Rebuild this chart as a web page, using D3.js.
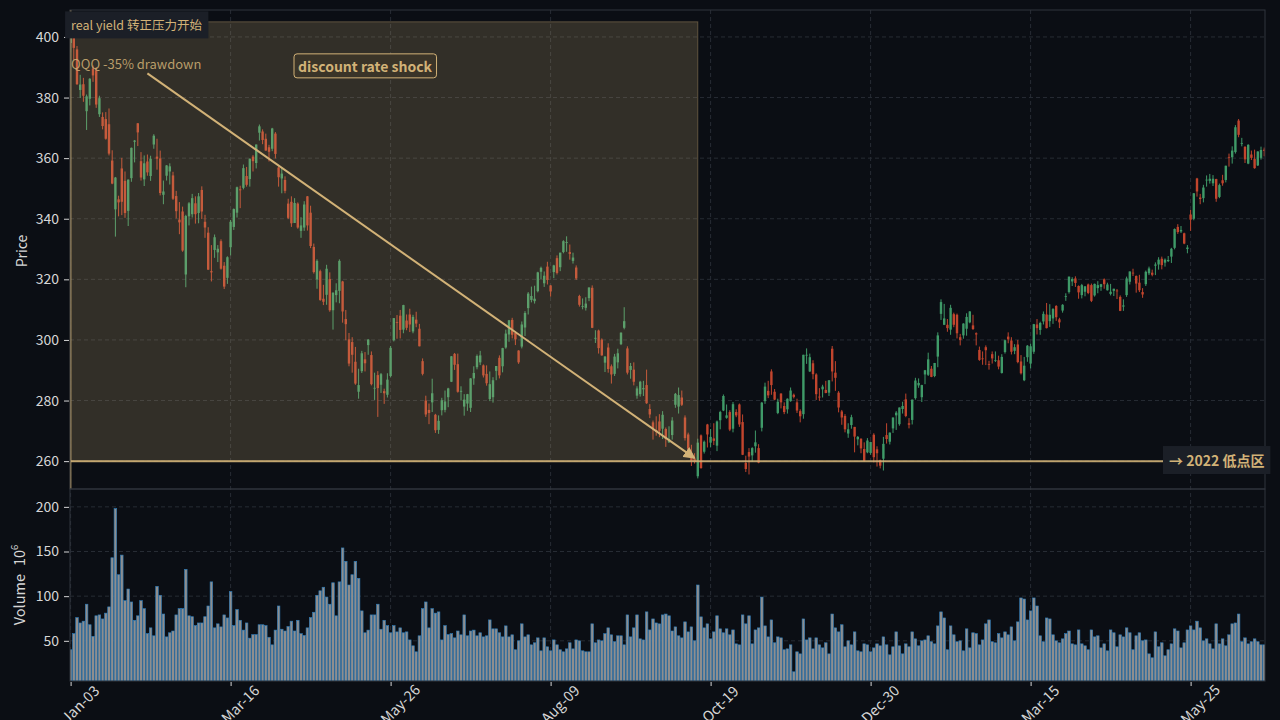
<!DOCTYPE html>
<html>
<head>
<meta charset="utf-8">
<script src="https://cdn.jsdelivr.net/npm/d3@7"></script>
<style>
  body { margin: 0; background: #0b0e14; }
  svg { display: block; font-family: "Noto Sans CJK SC", "Noto Sans", sans-serif; }
</style>
</head>
<body>
<div id="chart"></div>
<script>
// x ticks: every 50 trading days
const tickIndex = [0, 50, 100, 150, 200, 250, 300, 350];
const tickLabels = ["Jan-03", "Mar-16", "May-26", "Aug-09", "Oct-19", "Dec-30", "Mar-15", "May-25"];
const priceTicks = [260, 280, 300, 320, 340, 360, 380, 400];
const volumeTicks = [50, 100, 150, 200];

const opens = [
  398.0, 402.4, 395.9, 382.5, 384.4, 375.5, 379.6, 389.6, 389.0, 374.5,
  373.6, 372.9, 371.2, 359.2, 343.1, 346.4, 356.6, 352.5, 342.6, 353.4,
  365.4, 371.5, 359.0, 353.0, 358.9, 354.1, 364.5, 360.5, 359.9, 347.9,
  354.2, 355.6, 354.3, 347.5, 339.7, 342.4, 321.6, 340.8, 341.5, 345.1,
  341.9, 349.5, 339.0, 335.4, 322.7, 329.7, 328.9, 332.6, 324.5, 320.5,
  330.6, 337.3, 342.0, 349.7, 350.2, 354.1, 353.1, 360.5, 358.4, 368.4,
  368.8, 366.4, 363.6, 363.1, 368.1, 356.9, 353.3, 352.8, 345.0, 345.6,
  338.6, 345.0, 336.0, 337.1, 347.4, 342.0, 330.7, 320.0, 322.7, 313.6,
  314.9, 320.1, 309.8, 314.8, 316.2, 319.3, 306.9, 300.2, 299.3, 292.8,
  282.9, 289.7, 293.6, 298.3, 295.0, 284.1, 288.4, 285.2, 283.1, 281.9,
  288.1, 299.9, 305.9, 308.0, 303.4, 306.4, 308.4, 302.8, 306.7, 303.7,
  293.0, 280.0, 276.9, 279.4, 275.3, 270.3, 276.8, 276.9, 281.1, 286.2,
  295.4, 292.0, 282.9, 278.0, 279.0, 277.6, 287.3, 291.0, 292.6, 291.6,
  288.8, 280.5, 281.1, 289.8, 294.1, 291.3, 297.5, 301.8, 306.6, 302.3,
  296.5, 297.8, 304.1, 310.5, 313.2, 312.8, 316.1, 322.5, 318.7, 324.2,
  318.0, 322.4, 327.0, 324.0, 329.0, 332.0, 329.0, 326.1, 323.9, 314.5,
  311.1, 310.6, 313.8, 317.2, 300.4, 303.1, 300.1, 292.5, 297.5, 291.3,
  288.8, 292.6, 298.6, 304.0, 297.2, 290.1, 290.2, 281.6, 282.1, 283.7,
  285.1, 277.2, 272.8, 270.2, 273.1, 270.7, 270.6, 266.2, 268.6, 278.6,
  278.0, 281.0, 274.4, 268.8, 262.7, 260.7, 255.0, 268.5, 263.1, 272.1,
  266.1, 267.5, 265.1, 273.5, 276.7, 274.3, 276.2, 270.7, 276.2, 278.7,
  272.9, 259.4, 263.0, 261.9, 264.9, 264.3, 271.0, 279.8, 283.2, 289.6,
  282.9, 275.9, 282.3, 278.2, 277.1, 279.8, 281.9, 279.4, 276.5, 275.5,
  294.9, 289.6, 292.3, 288.6, 281.3, 283.7, 283.5, 282.6, 297.1, 289.2,
  282.6, 276.4, 274.9, 269.1, 271.9, 271.3, 267.2, 267.4, 264.0, 262.9,
  262.7, 268.7, 263.9, 260.3, 260.8, 268.6, 266.4, 270.8, 275.1, 272.2,
  277.2, 280.4, 272.5, 273.6, 280.8, 285.0, 281.1, 288.6, 288.5, 290.5,
  288.1, 294.5, 308.6, 305.0, 305.0, 303.4, 308.5, 308.3, 300.9, 301.5,
  303.7, 305.8, 304.8, 302.2, 296.7, 293.9, 297.6, 292.0, 295.3, 293.3,
  293.3, 289.1, 296.0, 301.1, 299.8, 296.4, 298.5, 292.9, 286.7, 294.3,
  292.2, 296.1, 305.1, 303.3, 306.1, 308.4, 306.2, 307.1, 311.2, 306.8,
  309.7, 314.3, 315.8, 319.3, 320.3, 317.8, 314.8, 315.9, 318.3, 318.1,
  314.7, 317.1, 317.5, 320.0, 316.4, 315.2, 316.2, 316.3, 314.2, 311.0,
  314.8, 319.2, 322.2, 321.1, 318.9, 315.8, 318.4, 322.0, 322.2, 324.5,
  324.9, 326.8, 325.5, 326.0, 327.5, 330.4, 337.3, 335.8, 335.2, 330.0,
  341.4, 340.0, 353.3, 347.0, 346.8, 352.7, 352.5, 351.7, 353.1, 347.2,
  352.7, 352.8, 360.4, 360.3, 362.0, 372.4, 364.9, 363.7, 358.2, 361.2,
  359.7, 357.6, 360.1, 362.8
];
const highs = [
  401.9, 403.0, 397.0, 387.5, 386.5, 381.0, 386.4, 390.6, 390.0, 380.6,
  375.1, 375.2, 376.4, 362.6, 353.8, 347.6, 360.1, 355.6, 353.0, 363.5,
  366.0, 371.6, 362.0, 360.9, 361.2, 360.8, 367.9, 366.4, 362.5, 352.6,
  357.7, 358.3, 355.5, 349.2, 345.5, 344.0, 341.3, 345.5, 348.2, 347.4,
  348.5, 350.7, 341.3, 337.2, 331.3, 334.8, 331.3, 333.2, 325.7, 327.6,
  339.6, 343.4, 350.6, 350.9, 357.9, 357.1, 359.9, 361.0, 364.5, 371.1,
  369.5, 368.1, 364.4, 370.0, 368.6, 357.3, 357.0, 354.0, 346.6, 347.4,
  346.8, 345.4, 340.5, 345.8, 347.5, 344.3, 331.8, 326.6, 323.2, 318.2,
  324.8, 322.3, 315.7, 318.7, 326.6, 319.5, 309.9, 302.3, 300.9, 297.7,
  290.5, 296.4, 296.0, 300.3, 296.2, 289.2, 289.7, 289.1, 283.9, 289.0,
  298.0, 307.2, 308.2, 309.9, 311.6, 308.4, 310.3, 308.3, 309.3, 305.3,
  293.9, 281.6, 279.0, 287.2, 275.6, 275.1, 280.9, 283.3, 284.2, 294.7,
  295.7, 295.5, 284.7, 282.1, 282.2, 287.4, 291.3, 295.2, 296.4, 291.9,
  291.6, 289.6, 287.7, 291.4, 294.9, 297.4, 303.4, 306.6, 307.3, 302.8,
  296.6, 306.1, 309.5, 315.8, 317.6, 317.9, 322.5, 324.2, 322.6, 325.8,
  318.1, 324.8, 327.9, 328.8, 332.9, 334.2, 331.5, 328.8, 324.6, 314.9,
  313.7, 314.1, 317.4, 318.0, 303.2, 303.4, 300.5, 294.7, 298.9, 291.9,
  295.4, 297.1, 302.5, 310.8, 297.9, 292.4, 292.6, 284.7, 286.5, 286.5,
  290.2, 278.8, 273.4, 274.8, 275.5, 276.5, 271.1, 271.5, 274.5, 282.5,
  284.3, 283.3, 275.1, 269.4, 265.4, 262.6, 267.4, 268.8, 266.8, 272.3,
  270.6, 272.5, 273.4, 276.6, 282.0, 278.7, 276.8, 279.5, 277.1, 279.0,
  275.4, 261.8, 264.3, 264.6, 270.1, 265.6, 279.5, 285.9, 286.5, 290.3,
  283.8, 280.6, 282.4, 279.4, 280.7, 284.3, 282.3, 280.6, 277.1, 295.1,
  297.2, 295.5, 293.3, 289.0, 284.1, 285.2, 286.5, 286.7, 298.0, 293.0,
  283.1, 276.9, 275.5, 272.5, 275.3, 271.3, 268.3, 267.5, 266.2, 267.6,
  266.4, 269.2, 264.9, 260.5, 268.0, 272.5, 269.5, 274.4, 276.5, 277.7,
  279.6, 282.3, 274.2, 280.3, 287.5, 287.3, 285.2, 290.1, 295.8, 291.4,
  292.4, 302.5, 313.4, 311.9, 306.9, 311.6, 309.0, 308.7, 302.0, 305.5,
  308.8, 309.5, 308.3, 302.5, 297.8, 296.2, 298.2, 293.1, 296.2, 296.2,
  294.8, 295.3, 300.1, 302.5, 300.9, 298.6, 300.0, 295.0, 294.4, 298.3,
  298.8, 305.3, 306.9, 306.0, 309.4, 312.2, 311.8, 310.5, 311.5, 307.3,
  311.8, 315.4, 320.9, 320.7, 321.0, 318.0, 318.5, 317.7, 318.6, 318.6,
  318.6, 319.4, 318.5, 320.3, 318.9, 318.5, 316.9, 316.8, 314.7, 313.4,
  320.9, 322.6, 323.5, 321.3, 321.5, 317.1, 322.9, 324.2, 323.2, 325.6,
  327.3, 327.5, 326.9, 327.7, 330.4, 336.8, 338.2, 337.6, 335.4, 331.3,
  342.9, 348.5, 353.5, 348.2, 351.2, 354.3, 354.8, 354.4, 353.2, 351.6,
  354.5, 357.5, 361.5, 363.9, 370.9, 372.9, 366.7, 364.0, 364.6, 362.5,
  362.8, 362.3, 363.8, 363.5
];
const lows = [
  394.9, 392.4, 384.2, 379.9, 378.6, 369.3, 377.4, 385.2, 376.6, 373.6,
  369.5, 366.1, 360.9, 351.4, 334.1, 340.8, 341.2, 340.3, 337.6, 352.2,
  358.6, 364.0, 352.6, 350.8, 354.2, 352.5, 363.1, 356.2, 347.7, 344.8,
  352.6, 351.3, 346.2, 340.1, 334.9, 329.1, 317.4, 337.8, 340.4, 338.4,
  338.5, 339.9, 333.7, 323.1, 319.3, 327.1, 325.7, 323.2, 316.8, 318.5,
  327.9, 336.3, 340.4, 343.5, 349.7, 350.6, 350.6, 355.6, 356.6, 365.8,
  364.6, 362.5, 358.9, 362.3, 359.9, 350.6, 348.4, 348.4, 339.9, 337.3,
  338.6, 336.7, 333.7, 336.0, 336.1, 330.3, 321.9, 316.9, 312.9, 311.5,
  311.6, 309.3, 303.4, 312.4, 312.1, 305.7, 299.9, 291.3, 289.2, 285.2,
  280.6, 289.1, 289.6, 295.1, 285.0, 280.2, 274.6, 282.5, 278.9, 281.0,
  287.7, 299.5, 300.4, 300.5, 302.2, 303.2, 302.6, 302.2, 304.2, 297.9,
  288.3, 274.6, 272.2, 276.2, 269.3, 269.0, 275.1, 276.1, 277.8, 286.1,
  290.1, 282.6, 280.0, 275.0, 276.6, 276.2, 285.2, 290.3, 291.7, 287.6,
  284.9, 279.8, 279.3, 286.7, 287.3, 289.3, 297.1, 299.4, 300.5, 298.3,
  292.1, 297.2, 301.3, 308.4, 312.4, 312.0, 315.7, 320.1, 317.5, 318.3,
  314.3, 320.4, 321.6, 322.7, 328.6, 329.1, 326.5, 325.2, 319.8, 311.0,
  310.1, 309.7, 312.8, 303.9, 299.0, 295.5, 294.8, 289.4, 289.2, 285.6,
  288.1, 290.6, 298.3, 303.5, 288.6, 287.2, 285.0, 280.6, 281.3, 281.5,
  278.9, 274.2, 267.1, 268.4, 267.9, 267.3, 264.7, 266.0, 267.1, 277.6,
  275.7, 278.2, 266.8, 262.1, 258.4, 259.2, 254.3, 257.5, 262.5, 264.5,
  264.6, 265.3, 263.3, 270.5, 276.5, 274.0, 269.9, 269.5, 274.5, 271.3,
  262.0, 256.4, 255.6, 259.8, 262.8, 259.3, 269.8, 278.9, 280.8, 281.9,
  280.1, 275.5, 277.4, 275.5, 275.7, 279.6, 280.7, 275.9, 272.8, 274.0,
  292.1, 289.4, 287.0, 280.2, 279.9, 281.0, 282.4, 281.5, 286.3, 283.2,
  276.1, 272.0, 269.5, 267.7, 270.7, 262.9, 265.2, 262.6, 259.9, 262.6,
  262.1, 259.6, 258.2, 257.6, 256.9, 265.8, 265.5, 269.3, 270.3, 271.7,
  275.7, 274.5, 270.8, 272.1, 280.3, 284.2, 279.5, 285.4, 288.1, 287.7,
  287.7, 291.0, 306.6, 304.9, 302.7, 301.7, 304.2, 300.5, 298.2, 300.4,
  301.4, 305.5, 303.3, 298.2, 293.1, 291.8, 291.7, 290.2, 292.2, 292.7,
  290.3, 288.9, 295.5, 298.9, 295.2, 295.3, 292.3, 288.6, 286.4, 292.8,
  290.6, 295.4, 301.8, 301.7, 305.1, 303.8, 304.3, 305.3, 306.3, 303.9,
  309.0, 312.9, 315.3, 317.8, 317.5, 313.6, 313.7, 314.4, 315.1, 312.5,
  314.3, 315.4, 316.2, 316.9, 316.3, 314.7, 314.5, 313.5, 309.5, 309.6,
  314.2, 318.3, 321.1, 315.6, 315.8, 313.9, 317.8, 321.4, 321.0, 321.4,
  323.2, 323.3, 324.2, 325.7, 325.4, 329.9, 335.0, 335.3, 331.6, 328.6,
  336.0, 339.5, 347.3, 344.8, 345.4, 350.6, 351.6, 350.8, 345.6, 346.8,
  350.9, 352.0, 357.2, 358.2, 361.5, 366.9, 363.9, 358.4, 358.0, 359.4,
  356.5, 357.4, 359.5, 360.6
];
const closes = [
  401.7, 396.4, 384.4, 384.3, 380.6, 380.4, 386.2, 387.3, 377.7, 379.8,
  370.6, 366.4, 361.5, 351.6, 353.6, 345.4, 345.6, 341.9, 352.9, 363.4,
  365.8, 368.5, 353.6, 358.3, 355.3, 359.8, 367.4, 359.8, 348.5, 349.0,
  357.6, 357.3, 346.6, 342.5, 338.8, 329.5, 340.9, 345.1, 346.8, 341.5,
  347.4, 342.4, 337.1, 323.2, 322.3, 333.9, 330.1, 323.5, 317.6, 327.3,
  339.0, 343.2, 350.4, 349.4, 356.7, 351.2, 359.8, 359.0, 364.5, 370.5,
  366.0, 362.5, 362.1, 369.8, 361.4, 353.7, 354.9, 349.2, 340.3, 338.5,
  345.2, 337.1, 337.8, 344.7, 337.8, 331.0, 322.4, 326.1, 313.2, 312.6,
  323.5, 309.8, 315.6, 316.4, 326.1, 309.4, 305.2, 292.2, 295.1, 285.6,
  285.1, 295.6, 292.3, 300.1, 285.4, 284.2, 284.1, 288.7, 282.4, 286.9,
  297.4, 307.2, 305.8, 303.3, 311.5, 304.0, 305.1, 307.6, 305.4, 297.9,
  288.8, 275.4, 275.9, 282.4, 270.2, 273.3, 280.1, 279.7, 284.0, 294.6,
  291.8, 282.9, 283.2, 280.3, 282.1, 287.3, 289.1, 294.7, 294.9, 288.3,
  285.7, 285.4, 286.7, 291.4, 288.3, 297.3, 302.1, 306.5, 301.7, 300.2,
  292.6, 305.1, 308.9, 315.3, 314.5, 313.6, 322.3, 323.8, 321.2, 319.8,
  316.0, 324.6, 322.1, 328.8, 332.6, 332.3, 328.4, 327.2, 320.3, 311.6,
  311.2, 312.0, 317.3, 304.0, 300.7, 297.3, 294.9, 294.5, 290.4, 288.6,
  294.5, 295.6, 302.4, 306.2, 289.2, 291.4, 286.2, 284.0, 286.2, 284.1,
  279.1, 275.4, 270.8, 269.6, 270.0, 275.3, 267.3, 267.3, 273.4, 282.2,
  281.8, 278.6, 267.6, 264.1, 260.0, 259.8, 266.1, 257.7, 266.4, 268.8,
  268.0, 266.7, 273.1, 276.2, 281.5, 275.1, 270.4, 278.8, 275.1, 272.1,
  262.1, 257.4, 261.5, 264.3, 266.2, 259.5, 279.3, 284.6, 281.7, 285.1,
  280.3, 279.6, 279.4, 276.2, 280.6, 283.3, 281.2, 276.7, 274.8, 295.1,
  295.1, 294.3, 288.7, 282.1, 281.0, 284.6, 282.5, 286.7, 289.6, 287.5,
  277.7, 274.4, 270.5, 270.5, 274.5, 268.1, 268.0, 264.2, 260.1, 266.8,
  266.3, 261.3, 262.6, 258.5, 265.7, 267.3, 269.4, 274.4, 276.0, 277.7,
  278.2, 274.9, 272.0, 280.3, 286.6, 285.8, 285.1, 290.0, 293.6, 287.8,
  292.4, 301.5, 312.5, 307.1, 303.9, 310.6, 305.0, 302.2, 300.0, 305.4,
  307.6, 309.4, 303.6, 301.8, 293.4, 293.7, 296.6, 291.8, 293.9, 293.3,
  291.2, 294.4, 299.9, 300.2, 296.1, 297.6, 292.7, 289.0, 291.5, 298.1,
  297.9, 305.2, 303.9, 305.6, 308.6, 303.9, 308.3, 310.2, 307.5, 305.8,
  311.6, 314.5, 320.9, 320.1, 318.8, 315.7, 318.1, 317.7, 315.5, 312.9,
  318.5, 318.1, 318.4, 318.4, 318.3, 315.9, 316.9, 316.1, 309.6, 311.4,
  320.3, 322.6, 322.1, 318.6, 316.4, 315.0, 322.5, 323.6, 321.5, 324.9,
  326.5, 324.7, 326.5, 326.4, 330.1, 336.6, 335.6, 336.3, 331.8, 330.5,
  339.7, 348.4, 349.0, 346.5, 350.3, 352.9, 353.2, 353.2, 346.6, 351.1,
  351.7, 357.5, 360.2, 362.5, 370.2, 367.7, 365.0, 359.6, 364.4, 360.1,
  356.7, 362.2, 362.7, 362.4
];
// volume in millions
const volumes = [
  40, 58, 76, 70, 72, 91, 68, 55, 78, 79,
  74.5, 81, 88, 143, 198, 124, 146, 95, 108, 93.5,
  73, 78, 95, 86, 58, 64.5, 55.6, 111, 101, 80,
  54.4, 59, 61, 79, 86, 86, 130, 78, 77, 67,
  70, 70, 77, 89, 116, 64.5, 69, 65.6, 79, 75.6,
  105, 67, 85, 73, 62, 70, 53, 57, 57, 68,
  68, 67, 54, 45.5, 62, 89, 63, 61, 66, 72,
  61, 73, 58, 56, 64.5, 76, 82, 101, 106, 110,
  99, 91, 115, 78, 116, 154, 139, 112.5, 124, 139,
  120, 83.5, 59, 62, 79, 79, 91, 63, 73, 67,
  59, 67, 60, 64.5, 59, 60, 51, 44.4, 37.7, 55.6,
  86, 93.5, 64.5, 86, 81, 82.4, 51, 67, 57, 58,
  53.3, 61, 56.7, 79, 55.6, 61, 62, 55.6, 59, 54.4,
  55.6, 73.4, 63.4, 63.4, 59, 54.4, 66.7, 54.4, 56.7, 40,
  50, 69, 54.4, 56.7, 45.5, 47.8, 53.3, 38.8, 53.3, 43.3,
  38.8, 51, 45.5, 40, 37.7, 41, 47.8, 41, 51, 50,
  38.8, 37.7, 37.7, 69, 47.8, 51, 50, 58, 64.5, 56.7,
  49, 55.6, 55.6, 45.5, 79, 54.4, 64.5, 79, 52.2, 51,
  82.4, 62.2, 74.5, 70, 69, 79, 80, 78, 61, 65.6,
  55.6, 53.3, 71.2, 60, 65.6, 50, 112.5, 76.8, 64.5, 69,
  52.2, 60, 78, 63.4, 59, 63.4, 56.7, 62.2, 46.6, 45.5,
  79, 69, 78, 46.6, 62.2, 64.5, 99, 66.7, 54.4, 73.4,
  47.8, 54.4, 53.3, 40, 41, 45.5, 15.3, 37.7, 35.4, 74.5,
  51, 53.3, 41, 53.3, 45.5, 42.1, 47.8, 35.4, 80, 64.5,
  60, 68, 43.3, 50, 45.5, 60, 38.8, 37.7, 46.6, 45.5,
  37.7, 42.1, 46.6, 44.4, 54.4, 45.5, 34.3, 43.3, 60, 44.4,
  35.4, 46.6, 43.3, 60, 52.2, 44.4, 50, 51, 55.6, 49,
  46.6, 66.7, 82.4, 75.6, 40, 66.7, 56.7, 49, 50, 38.8,
  63.4, 42.1, 59, 58, 45.5, 51, 69, 73.4, 49, 47.8,
  58, 53.3, 60, 56.7, 65.6, 50, 71.2, 98, 96.8, 73.4,
  83.5, 98, 89, 55.6, 49, 75.6, 74.5, 56.7, 50, 47.8,
  52.2, 58, 61, 46.6, 45.5, 62.2, 46.6, 44.4, 40, 62.2,
  54.4, 55.6, 42.1, 46.6, 38.8, 62.2, 59, 43.3, 56.7, 54.4,
  64.5, 59, 40, 55.6, 59, 50, 51, 35.4, 31, 60,
  43.3, 47.8, 33.2, 40, 46.6, 63.4, 61, 42.1, 47.8, 62.2,
  66.7, 62.2, 72, 64.5, 50, 52.2, 46.6, 41, 69, 46.6,
  52.2, 44.4, 56.7, 69, 70, 80, 49, 53.3, 46.6, 49,
  52.2, 49, 45.5, 45.5
];

// annotation anchors (bar index, price)
const zoneStart = 0, zoneEnd = 196, zoneTop = 405, zoneBottom = 260;
const lowLevel = 260;
const arrowFrom = [24, 388], arrowTo = [195, 261];

const W = 1280, H = 720;
const left = 70, right = 1265;
const pTop = 10, pBot = 489, vTop = 489, vBot = 681;
const bg = "#0b0e14", tan = "#d2b277", txt = "#d6d6d6", gridC = "#272c34", frameC = "#30353d";
const upC = "#3f9a68", downC = "#c2452d";

const n = closes.length;
const x = d3.scaleLinear().domain([0, n - 1]).range([70.6, 1264.2]);
const y = d3.scaleLinear().domain([250.8, 408.9]).range([pBot, pTop]);
const yv = d3.scaleLinear().domain([5, 220]).range([vBot, vTop]);

const svg = d3.select("#chart").append("svg")
    .attr("width", W).attr("height", H)
    .style("background", bg);

const defs = svg.append("defs");
defs.append("clipPath").attr("id", "clipP").append("rect")
    .attr("x", left).attr("y", pTop).attr("width", right - left).attr("height", pBot - pTop);
defs.append("clipPath").attr("id", "clipV").append("rect")
    .attr("x", left).attr("y", vTop).attr("width", right - left).attr("height", vBot - vTop);
defs.append("marker").attr("id", "arrow")
    .attr("viewBox", "0 0 10 10").attr("refX", 9).attr("refY", 5)
    .attr("markerWidth", 6).attr("markerHeight", 6).attr("orient", "auto")
    .append("path").attr("d", "M0,0 L10,5 L0,10 z").attr("fill", tan);

// grids
const grid = svg.append("g").attr("stroke", gridC).attr("stroke-dasharray", "4,3");
grid.selectAll(".hp").data(priceTicks).enter().append("line")
    .attr("x1", left).attr("x2", right).attr("y1", d => y(d)).attr("y2", d => y(d));
grid.selectAll(".hv").data(volumeTicks).enter().append("line")
    .attr("x1", left).attr("x2", right).attr("y1", d => yv(d)).attr("y2", d => yv(d));
grid.selectAll(".vx").data(tickIndex).enter().append("line")
    .attr("x1", d => x(d)).attr("x2", d => x(d)).attr("y1", pTop).attr("y2", vBot);

// candles
const idx = d3.range(n);
const cg = svg.append("g").attr("clip-path", "url(#clipP)");
const candle = cg.selectAll("g.c").data(idx).enter().append("g")
    .attr("fill", i => closes[i] >= opens[i] ? upC : downC)
    .attr("stroke", i => closes[i] >= opens[i] ? upC : downC);
candle.append("line")
    .attr("x1", i => x(i)).attr("x2", i => x(i))
    .attr("y1", i => y(highs[i])).attr("y2", i => y(lows[i]))
    .attr("stroke-width", 1);
candle.append("rect")
    .attr("x", i => x(i) - 1.2).attr("width", 2.4)
    .attr("y", i => y(Math.max(opens[i], closes[i])))
    .attr("height", i => Math.max(0.8, Math.abs(y(opens[i]) - y(closes[i]))))
    .attr("stroke", "none");

// shaded drawdown zone (drawn over candles)
svg.append("rect")
    .attr("x", x(zoneStart)).attr("width", x(zoneEnd) - x(zoneStart))
    .attr("y", y(zoneTop)).attr("height", y(zoneBottom) - y(zoneTop))
    .attr("fill", tan).attr("fill-opacity", 0.2)
    .attr("stroke", tan).attr("stroke-opacity", 0.35).attr("stroke-width", 1);

// 2022 low line
svg.append("line")
    .attr("x1", left).attr("x2", right).attr("y1", y(lowLevel)).attr("y2", y(lowLevel))
    .attr("stroke", tan).attr("stroke-width", 2).attr("stroke-opacity", 0.9);
// real yield marker line
svg.append("line")
    .attr("x1", x(zoneStart)).attr("x2", x(zoneStart)).attr("y1", pTop).attr("y2", pBot)
    .attr("stroke", tan).attr("stroke-width", 1.5).attr("stroke-opacity", 0.9);

// volume bars
svg.append("g").attr("clip-path", "url(#clipV)")
  .selectAll("rect").data(idx).enter().append("rect")
    .attr("x", i => x(i) - 1.3).attr("width", 2.6)
    .attr("y", i => yv(volumes[i])).attr("height", i => vBot - yv(volumes[i]))
    .attr("fill", "#8e8e8e").attr("stroke", "#2a7bb9").attr("stroke-width", 0.6);

// frames
[[pTop, pBot], [vTop, vBot]].forEach(([t, b]) => {
  svg.append("rect").attr("x", left).attr("y", t).attr("width", right - left).attr("height", b - t)
     .attr("fill", "none").attr("stroke", frameC);
});

// axes
const axP = svg.append("g").attr("transform", `translate(${left - 1},0)`)
    .call(d3.axisLeft(y).tickValues(priceTicks).tickSize(5).tickPadding(5));
const axV = svg.append("g").attr("transform", `translate(${left - 1},0)`)
    .call(d3.axisLeft(yv).tickValues(volumeTicks).tickSize(5).tickPadding(5));
const axX = svg.append("g").attr("transform", `translate(0,${vBot + 1})`)
    .call(d3.axisBottom(x).tickValues(tickIndex).tickFormat((d, i) => tickLabels[i]).tickSize(4).tickPadding(3));
[axP, axV, axX].forEach(a => {
  a.select(".domain").remove();
  a.selectAll(".tick line").attr("stroke", txt);
  a.selectAll(".tick text").attr("fill", txt).style("font-size", "14px")
   .style("font-family", "'Noto Sans CJK SC', sans-serif");
});
axX.selectAll(".tick text")
    .style("font-size", "14.5px")
    .attr("text-anchor", "middle").attr("dy", 0).attr("y", 0)
    .attr("transform", "translate(13,26) rotate(-45)");

svg.append("text").attr("transform", "translate(27,251) rotate(-90)")
    .attr("text-anchor", "middle").attr("fill", txt).style("font-size", "14px").text("Price");
const vl = svg.append("text").attr("transform", "translate(25,585) rotate(-90)")
    .attr("text-anchor", "middle").attr("fill", txt).style("font-size", "14.5px");
vl.append("tspan").text("Volume");
vl.append("tspan").attr("dx", 8).text("10");
vl.append("tspan").attr("baseline-shift", "super").style("font-size", "9.5px").text("6");

// arrow + annotations
svg.append("line")
    .attr("x1", x(arrowFrom[0])).attr("y1", y(arrowFrom[1]))
    .attr("x2", x(arrowTo[0])).attr("y2", y(arrowTo[1]))
    .attr("stroke", tan).attr("stroke-width", 2).attr("marker-end", "url(#arrow)");

svg.append("text").attr("x", x(zoneStart) + 0.5).attr("y", y(391)).attr("dy", "0.35em")
    .attr("fill", tan).attr("fill-opacity", 0.85).style("font-size", "13px")
    .text("QQQ -35% drawdown");

function boxedText(px, py, str, opt) {
  const g = svg.append("g");
  const t = g.append("text").attr("x", px).attr("y", py).attr("dy", "0.35em")
      .attr("text-anchor", opt.anchor || "start")
      .attr("fill", tan).style("font-size", opt.size + "px")
      .style("font-weight", opt.bold ? "bold" : "normal").text(str);
  const b = t.node().getBBox();
  g.insert("rect", "text")
      .attr("x", b.x - opt.padX).attr("y", b.y - opt.padY)
      .attr("width", b.width + 2 * opt.padX).attr("height", b.height + 2 * opt.padY)
      .attr("rx", opt.rx || 0)
      .attr("fill", opt.fill).attr("stroke", opt.stroke || "none").attr("stroke-width", 1);
  return g;
}

boxedText(x(zoneStart) + 0.5, 26, "real yield 转正压力开始",
    { size: 12.5, padX: 6, padY: 4, fill: "#1b1f27" });
boxedText(x(92), y(390.1), "discount rate shock",
    { size: 14, bold: true, anchor: "middle", padX: 4, padY: 2, rx: 3, fill: "#3a3428", stroke: tan });
boxedText(1169, y(lowLevel), "→ 2022 低点区",
    { size: 14, bold: true, padX: 6, padY: 4, fill: "#1b1f27" });
</script>
</body>
</html>
